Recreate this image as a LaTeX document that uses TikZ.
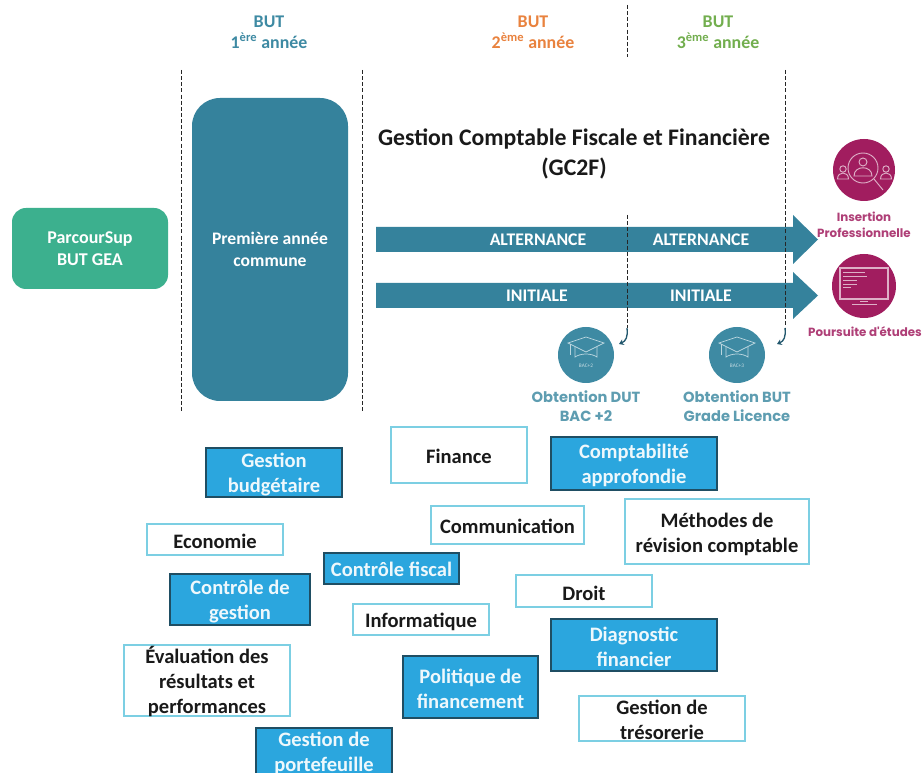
\documentclass[tikz,border=0pt]{standalone}
\usepackage{fontspec}
\setmainfont{Carlito}
\newfontfamily\geo{Poppins}
\usetikzlibrary{arrows.meta}
\definecolor{teal1}{HTML}{35829C}
\definecolor{teal2}{HTML}{3E8AA3}
\definecolor{green1}{HTML}{3CB08E}
\definecolor{orange1}{HTML}{E9823E}
\definecolor{green2}{HTML}{72AE4E}
\definecolor{purple1}{HTML}{A11D5F}
\definecolor{blue1}{HTML}{2BA6DE}
\definecolor{edge1}{HTML}{1F4E63}
\definecolor{edge2}{HTML}{7CCFE3}
\definecolor{obt}{HTML}{5E9DB1}
\tikzset{
  x=0.75pt,y=-0.75pt,
  bluebox/.style={draw=edge1,fill=blue1,line width=0.9pt,inner sep=0pt},
  whitebox/.style={draw=edge2,fill=white,line width=0.9pt,inner sep=0pt},
  bluetext/.style={text=white!92!blue1,inner sep=0pt,align=center,font=\fontsize{15.4}{18.7}\selectfont\bfseries},
  whitetext/.style={text=black!90,inner sep=0pt,align=center,font=\fontsize{15.4}{18.7}\selectfont\bfseries},
  head/.style={align=center,font=\fontsize{13.4}{15.5}\selectfont\bfseries,inner sep=0pt},
  dashline/.style={draw=black!85,line width=0.75pt,dash pattern=on 3pt off 1.6pt},
  bandlabel/.style={text=white,font=\fontsize{13.3}{14}\selectfont\bfseries,inner sep=0pt},
  bigbox/.style={text=white,align=center,font=\fontsize{13.2}{17}\selectfont\bfseries,inner sep=0pt},
  obtlabel/.style={text=obt,align=center,font=\geo\fontsize{11}{14.6}\selectfont\bfseries,inner sep=0pt},
  purplabel/.style={text=purple1!85!white,align=center,font=\geo\fontsize{8.9}{12}\selectfont\bfseries,inner sep=0pt},
  iconline/.style={draw=white!65!purple1,line width=0.7pt},
  capline/.style={draw=white!65!teal2,line width=0.55pt},
  hook/.style={draw=edge1!80!teal1,line width=1pt,-{Stealth[length=3.5pt,width=4.5pt]}}
}
% name, kind (blue/white), cx, cy, width px, height px, text offset px, text
\newcommand{\subjectbox}[8]{%
  \node[#2box,minimum width=#5*0.75pt,minimum height=#6*0.75pt] (#1) at (#3,#4) {};
  \node[#2text] (#1t) at (#3,#4+#7) {#8};
}
\begin{document}
\begin{tikzpicture}
\path[use as bounding box,clip] (0,0) rectangle (922,773);
\fill[white] (0,0) rectangle (922,773);

% headers
\node[head,text=teal2] (h1) at (269,32) {BUT\\1\textsuperscript{ère} année};
\node[head,text=orange1] (h2) at (533,32) {BUT\\2\textsuperscript{ème} année};
\node[head,text=green2] (h3) at (718,32) {BUT\\3\textsuperscript{ème} année};

% dashed separators
\coordinate (d1a) at (181,70); \coordinate (d1b) at (181,411);
\coordinate (d2a) at (362,70); \coordinate (d2b) at (362,412);
\coordinate (d3a) at (627,5); \coordinate (d3b) at (627,57);
\coordinate (d4a) at (627,215); \coordinate (d4b) at (627,328);
\coordinate (d5a) at (785,70); \coordinate (d5b) at (785,328);
\coordinate (e4) at (619,344); \coordinate (e5) at (777,344);
\draw[dashline] (d1a) -- (d1b);
\draw[dashline] (d2a) -- (d2b);
\draw[dashline] (d3a) -- (d3b);

% left boxes
\node[fill=green1,rounded corners=10.5pt,minimum width=117pt,minimum height=60.75pt,text=white,align=center,
  font=\fontsize{13.5}{16.5}\selectfont\bfseries,inner sep=0pt] (ps) at (90,248.5) {ParcourSup\\BUT GEA};
\node[fill=teal1,rounded corners=21pt,minimum width=117pt,minimum height=227.25pt,bigbox] (common) at (270,249.5) {Première année\\commune};

% title
\node[align=center,inner sep=0pt,font=\fontsize{17.8}{23}\selectfont\bfseries,text=black!90] (title) at (574,154)
  {Gestion Comptable Fiscale et Financière\\(GC2F)};

% band arrows
\fill[teal1] (376,227) -- (793,227) -- (793,215) -- (818,239.5) -- (793,264) -- (793,252) -- (376,252) -- cycle;
\fill[teal1] (376,283) -- (793,283) -- (793,272) -- (818,295.5) -- (793,319) -- (793,308) -- (376,308) -- cycle;
\draw[dashline] (d4a) -- (d4b);
\draw[dashline] (d5a) -- (d5b);
\draw[hook] (d4b) .. controls (628,337) and (626,341) .. (e4);
\draw[hook] (d5b) .. controls (786,337) and (784,341) .. (e5);
\node[bandlabel] (alt1) at (538,240) {ALTERNANCE};
\node[bandlabel] (alt2) at (701,240) {ALTERNANCE};
\node[bandlabel] (ini1) at (537,296) {INITIALE};
\node[bandlabel] (ini2) at (701,296) {INITIALE};

% purple discs
\node[circle,fill=purple1,minimum size=46.5pt,inner sep=0pt] (insc) at (864,170) {};
\node[circle,fill=purple1,minimum size=48pt,inner sep=0pt] (posc) at (864,286) {};
% people icon
\draw[iconline] (863,168) circle (15);
\draw[iconline] (874,179) -- (883,190);
\draw[iconline] (863,162) circle (4);
\draw[iconline] (854,176) .. controls (854,165) and (872,165) .. (872,176) -- cycle;
\foreach \px in {843,886}{
  \draw[iconline] (\px,169) circle (3.2);
  \draw[iconline] (\px-5.5,179) .. controls (\px-5.5,171) and (\px+5.5,171) .. (\px+5.5,179) -- cycle;
}
% monitor icon
\draw[iconline,line width=0.8pt] (840,268) rectangle (888,299);
\foreach \yy/\xx in {272/865,276/867,280/857,284/857,287/851}
  \draw[iconline] (843,\yy) -- (\xx,\yy);
\draw[iconline] (852,304) -- (877,304);
\draw[iconline] (860,301) -- (868,301);

\node[purplabel] (ins) at (864,225) {Insertion\\Professionnelle};
\node[purplabel] (pos) at (865,332) {Poursuite d'études};

% teal discs
\node[circle,fill=teal2,minimum size=42pt,inner sep=0pt] (bac2c) at (586,355) {};
\node[circle,fill=teal2,minimum size=42pt,inner sep=0pt] (bac3c) at (737,355) {};
\foreach \cx in {586,737}{
  \draw[capline] (\cx-18,343) -- (\cx,337) -- (\cx+18,343) -- (\cx,352) -- cycle;
  \draw[capline] (\cx-11,347) -- (\cx-11,357) .. controls (\cx-5,353) and (\cx+5,353) .. (\cx+11,357) -- (\cx+11,347);
  \draw[capline] (\cx-16,344) -- (\cx-16,355);
}
\node[text=white!70!teal2,font=\fontsize{4}{4}\selectfont,inner sep=0pt] (bac2t) at (586,366) {BAC+2};
\node[text=white!70!teal2,font=\fontsize{4}{4}\selectfont,inner sep=0pt] (bac3t) at (737,366) {BAC+3};
\node[obtlabel] (ob2) at (586,406) {Obtention DUT\\BAC +2};
\node[obtlabel] (ob3) at (737,406) {Obtention BUT\\Grade Licence};

% subject boxes
\subjectbox{fin}{white}{459}{455}{136}{56}{1}{Finance}
\subjectbox{com}{white}{507.5}{525}{153}{38}{1}{Communication}
\subjectbox{met}{white}{717}{531.5}{184}{65}{3}{Méthodes de\\révision comptable}
\subjectbox{eco}{white}{215}{539.5}{136}{31}{2}{Economie}
\subjectbox{dro}{white}{584}{591}{136}{32}{2}{Droit}
\subjectbox{inf}{white}{421}{619.5}{136}{31}{2.5}{Informatique}
\subjectbox{eva}{white}{207}{680.5}{166}{71}{1}{Évaluation des\\résultats et\\performances}
\subjectbox{tre}{white}{662}{718.5}{166}{45}{1}{Gestion de\\trésorerie}
\subjectbox{bud}{blue}{274}{472.5}{136}{49}{2}{Gestion\\budgétaire}
\subjectbox{cpt}{blue}{634}{463.5}{166}{53}{2}{Comptabilité\\approfondie}
\subjectbox{fis}{blue}{391.5}{568.5}{135}{31}{1}{Contrôle fiscal}
\subjectbox{cdg}{blue}{240}{599.5}{140}{51}{2}{Contrôle de\\gestion}
\subjectbox{dia}{blue}{634}{645}{166}{52}{2}{Diagnostic\\financier}
\subjectbox{pol}{blue}{470.5}{687}{135}{62}{2}{Politique de\\financement}
\subjectbox{por}{blue}{324}{758}{136}{60}{-5}{Gestion de\\portefeuille}
\end{tikzpicture}
\end{document}
